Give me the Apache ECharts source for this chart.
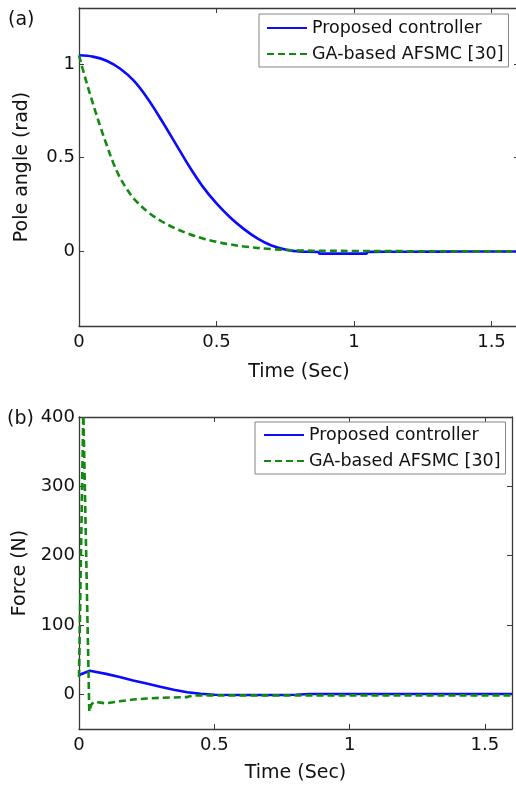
<!DOCTYPE html>
<html>
<head>
<meta charset="utf-8">
<script src="https://cdn.jsdelivr.net/npm/echarts@6/dist/echarts.min.js"></script>
<style>
html,body{margin:0;padding:0;background:#fff;}
#chart{width:516px;height:788px;}
</style>
</head>
<body>
<div id="chart"></div>
<script>
// ---- Data ----
const seriesNames = ['Proposed controller', 'GA-based AFSMC [30]'];
const xTicks = [0, 0.5, 1, 1.5];
const angleTicks = [0, 0.5, 1];
const forceTicks = [0, 100, 200, 300, 400];

// (a) Pole angle (rad)
const angleProposedT = [0, 0.05, 0.1, 0.15, 0.2, 0.25, 0.3, 0.35, 0.4, 0.45, 0.5, 0.55, 0.6, 0.65, 0.7, 0.75, 0.8, 0.87, 0.875, 1.045, 1.05, 1.2, 1.4, 1.6];
const angleProposed  = [1.047, 1.04, 1.018, 0.975, 0.91, 0.815, 0.70, 0.578, 0.455, 0.345, 0.255, 0.18, 0.118, 0.067, 0.03, 0.009, -0.002, -0.004, -0.013, -0.013, -0.004, -0.003, -0.002, -0.002];
const angleGAT = [0, 0.02, 0.04, 0.06, 0.08, 0.1, 0.125, 0.15, 0.175, 0.2, 0.25, 0.3, 0.35, 0.4, 0.45, 0.5, 0.55, 0.6, 0.7, 0.8, 0.9, 1.0, 1.2, 1.4, 1.6];
const angleGA  = [1.047, 0.94, 0.84, 0.745, 0.655, 0.57, 0.47, 0.39, 0.33, 0.28, 0.21, 0.16, 0.122, 0.092, 0.068, 0.05, 0.036, 0.025, 0.011, 0.004, 0.002, 0.001, 0, 0, 0];

// (b) Force (N)
const forceProposedT = [0, 0.04, 0.1, 0.15, 0.2, 0.25, 0.3, 0.35, 0.4, 0.45, 0.5, 0.6, 0.75, 0.8, 0.85, 1.0, 1.2, 1.4, 1.6];
const forceProposed  = [28, 34, 29.5, 25, 20, 15.5, 11, 6.5, 3, 0.8, -0.5, -1, -1, -0.5, 0.5, 0.5, 0.5, 0.5, 0.5];
const forceGAT = [0, 0.016, 0.038, 0.045, 0.055, 0.08, 0.1, 0.15, 0.2, 0.25, 0.3, 0.35, 0.4, 0.42, 0.45, 0.5, 0.8, 1.2, 1.6];
const forceGA  = [25, 410, -25, -15, -11, -12, -13, -10, -7.5, -6, -5, -4.5, -4, -1.5, -1.5, -1.5, -1.5, -1.5, -1.5];

// ---- Build ----
const pairs = (t, v) => t.map((x, i) => [x, v[i]]);
const FONT = 'DejaVu Sans';
const AX = '#3a3a3a';
const BLUE = '#0a0aff';
const GREEN = '#128a12';

function xAxes(gi, nameGap) {
  return [
    { type: 'value', gridIndex: gi, min: 0, max: 1.6, position: 'bottom',
      name: 'Time (Sec)', nameLocation: 'middle', nameGap: nameGap,
      nameTextStyle: { fontFamily: FONT, fontSize: 19, color: '#111' },
      axisLine: { show: true, onZero: false, lineStyle: { color: AX, width: 1.3 } },
      axisTick: { show: true, inside: true, length: 5, customValues: xTicks, lineStyle: { color: AX } },
      axisLabel: { show: true, margin: 7, customValues: xTicks, fontFamily: FONT, fontSize: 18, color: '#111',
        formatter: v => String(v) },
      splitLine: { show: false } },
    { type: 'value', gridIndex: gi, min: 0, max: 1.6, position: 'top',
      axisLine: { show: true, onZero: false, lineStyle: { color: AX, width: 1.3 } },
      axisTick: { show: true, inside: true, length: 5, customValues: xTicks, lineStyle: { color: AX } },
      axisLabel: { show: false }, splitLine: { show: false } }
  ];
}
function yAxes(gi, min, max, ticks, name, nameGap) {
  return [
    { type: 'value', gridIndex: gi, min: min, max: max, position: 'left',
      name: name, nameLocation: 'middle', nameGap: nameGap, nameRotate: 90,
      nameTextStyle: { fontFamily: FONT, fontSize: 19, color: '#111' },
      axisLine: { show: true, onZero: false, lineStyle: { color: AX, width: 1.3 } },
      axisTick: { show: true, inside: true, length: 5, customValues: ticks, lineStyle: { color: AX } },
      axisLabel: { show: true, margin: 4, customValues: ticks, fontFamily: FONT, fontSize: 18, color: '#111',
        formatter: v => String(v) },
      splitLine: { show: false } },
    { type: 'value', gridIndex: gi, min: min, max: max, position: 'right',
      axisLine: { show: true, onZero: false, lineStyle: { color: AX, width: 1.3 } },
      axisTick: { show: true, inside: true, length: 5, customValues: ticks, lineStyle: { color: AX } },
      axisLabel: { show: false }, splitLine: { show: false } }
  ];
}
function line(name, data, xi, yi, color, dashed, smooth) {
  return { name: name, type: 'line', xAxisIndex: xi, yAxisIndex: yi, data: data,
    symbol: 'none', showSymbol: false, smooth: smooth, clip: true, animation: false,
    lineStyle: { color: color, width: 2.6, type: dashed ? [7, 4] : 'solid' },
    itemStyle: { color: color } };
}
function legend(left, top, pad) {
  return { show: true, orient: 'vertical', left: left, top: top,
    data: seriesNames.map(n => ({ name: n })), selectedMode: false,
    itemWidth: 40, itemHeight: 14, itemGap: 6, padding: pad,
    backgroundColor: '#fff', borderColor: '#858585', borderWidth: 1, borderRadius: 0,
    itemStyle: { color: 'rgba(0,0,0,0)', borderColor: 'rgba(0,0,0,0)', borderWidth: 0, opacity: 0 },
    textStyle: { fontFamily: FONT, fontSize: 17.5, color: '#111', lineHeight: 20 } };
}

const chart = echarts.init(document.getElementById('chart'), null, { renderer: 'canvas' });
chart.setOption({
  backgroundColor: '#ffffff',
  animation: false,
  grid: [
    { left: 79, top: 8, width: 440, height: 318, outerBoundsMode: 'none', containLabel: false },
    { left: 79, top: 417, width: 433, height: 312, outerBoundsMode: 'none', containLabel: false }
  ],
  xAxis: [...xAxes(0, 37), ...xAxes(1, 35)],
  yAxis: [...yAxes(0, -0.4, 1.3, angleTicks, 'Pole angle (rad)', 47),
          ...yAxes(1, -50, 400, forceTicks, 'Force (N)', 47)],
  legend: [
    legend(259, 14, [4, 5, 3, 7]),
    legend(255, 422, [3, 5, 3, 8])
  ],
  series: [
    line(seriesNames[0], pairs(angleProposedT, angleProposed), 0, 0, BLUE, false, 0.35),
    line(seriesNames[1], pairs(angleGAT, angleGA), 0, 0, GREEN, true, 0.35),
    line(seriesNames[0], pairs(forceProposedT, forceProposed), 2, 2, BLUE, false, false),
    line(seriesNames[1], pairs(forceGAT, forceGA), 2, 2, GREEN, true, false)
  ],
  graphic: [
    { type: 'text', left: 8, top: 11, style: { text: '(a)', fontFamily: FONT, fontSize: 19, fill: '#111' } },
    { type: 'text', left: 7, top: 410, style: { text: '(b)', fontFamily: FONT, fontSize: 19, fill: '#111' } }
  ]
});
</script>
</body>
</html>
